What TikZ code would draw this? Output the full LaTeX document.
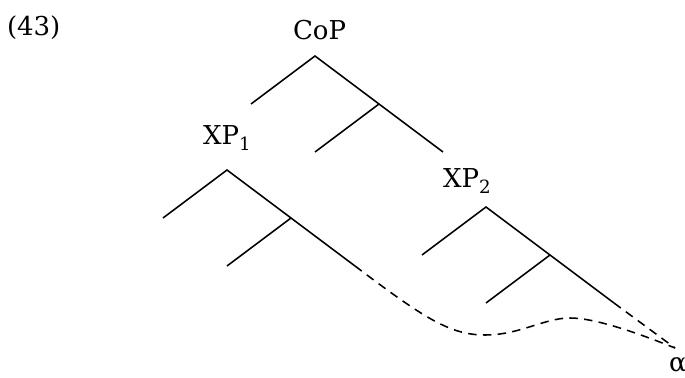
\documentclass[tikz,border=0pt]{standalone}
\usepackage{fontspec}
\setmainfont{DejaVu Serif}
\usepackage{tikz}
\usetikzlibrary{calc}
\tikzset{
  treeA/.style={
    font=\fontsize{18.5}{22}\selectfont,
    every node/.style={inner sep=0pt, outer sep=0pt},
    line cap=butt, line join=miter,
    line width=1.1pt,
  },
  branch/.style={black, line width=1.1pt},
  trace/.style={black, line width=1.1pt, dash pattern=on 6pt off 4.5pt},
  catLabel/.style={anchor=base west},
}
\begin{document}
\begin{tikzpicture}[treeA, x=1cm, y=1cm]
\useasboundingbox (0,0) rectangle (17.125,9.45);

% example number
\node[catLabel] (exnum) at (0.175, 8.55) {(43)};

% three identical skeletons: apex, left leaf, inner node, inner leaf, right leaf
\foreach \n/\x/\y in {cop/7.875/8.05, xpa/5.675/5.2, xpb/12.15/4.275} {
  \coordinate (\n)    at (\x, \y);
  \coordinate (\n-l)  at (\x-1.6, \y-1.2);
  \coordinate (\n-m)  at (\x+1.6, \y-1.2);
  \coordinate (\n-ml) at (\x, \y-2.4);
  \coordinate (\n-r)  at (\x+3.2, \y-2.4);
  \draw[branch] (\n-l) -- (\n) -- (\n-r);
  \draw[branch] (\n-m) -- (\n-ml);
}

% category labels
\node[catLabel] (copLab) at (7.325, 8.45)  {CoP};
\node[catLabel] (xpaLab) at (5.075, 5.825) {XP\textsubscript{1}};
\node[catLabel] (xpbLab) at (11.075, 4.75) {XP\textsubscript{2}};

% shared element
\node[anchor=base] (alpha) at (16.95, 0.15) {α};
\coordinate (meet) at (16.875, 0.75);

% dashed paths down to alpha
\draw[trace] (xpa-r) .. controls (10.6, 1.5) and (11.25, 1.075) .. (12.125, 1.075)
  .. controls (13.0, 1.075) and (13.6, 1.5) .. (14.25, 1.5)
  .. controls (14.9, 1.5) and (16.0, 1.1) .. (meet);
\draw[trace] (xpb-r) -- (meet);

\end{tikzpicture}
\end{document}
